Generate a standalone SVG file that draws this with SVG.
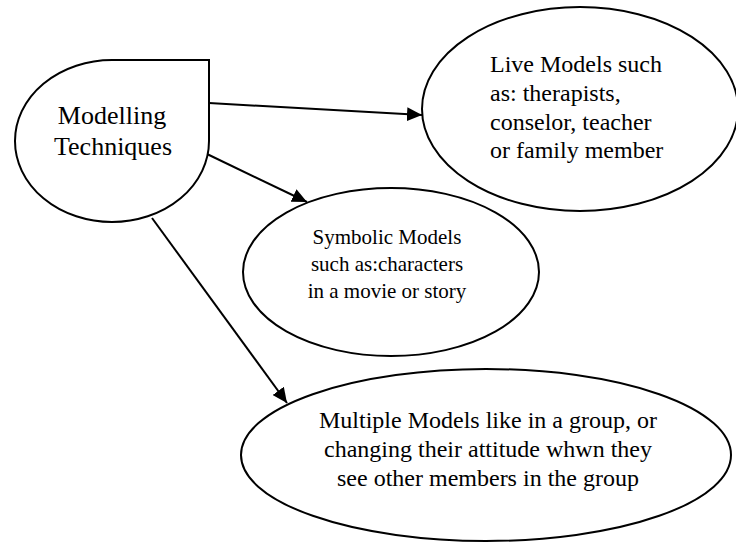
<svg xmlns="http://www.w3.org/2000/svg" width="736" height="542" viewBox="0 0 736 542">
<style>
.shape{fill:#fff;stroke:#000;stroke-width:2}
.conn{stroke:#000;stroke-width:2;fill:none}
text{font-family:"Liberation Serif","Times New Roman",serif;fill:#000}
.mid{text-anchor:middle}
</style>
<defs>
<marker id="arr" markerUnits="userSpaceOnUse" markerWidth="15" markerHeight="14" refX="15" refY="7" orient="auto">
<path d="M0,0 L15,7 L0,14 Z" fill="#000"/>
</marker>
</defs>
<rect width="736" height="542" fill="#fff"/>
<g id="connectors">
<line class="conn" x1="209" y1="103" x2="422" y2="115" marker-end="url(#arr)"/>
<line class="conn" x1="207" y1="154" x2="307" y2="202" marker-end="url(#arr)"/>
<line class="conn" x1="152" y1="218" x2="287" y2="403" marker-end="url(#arr)"/>
</g>
<g id="modelling">
<path class="shape" d="M112,60 L209,60 L209,141 A97,81 0 1,1 112,60 Z"/>
<text class="mid" x="112" y="124" font-size="26">Modelling</text>
<text class="mid" x="113" y="155" font-size="26">Techniques</text>
</g>
<g id="live">
<ellipse class="shape" cx="580" cy="109" rx="158" ry="102"/>
<text x="490" y="72" font-size="24">Live Models such</text>
<text x="490" y="101" font-size="24">as: therapists,</text>
<text x="490" y="130" font-size="24">conselor, teacher</text>
<text x="490" y="158" font-size="24">or family member</text>
</g>
<g id="symbolic">
<ellipse class="shape" cx="391" cy="272" rx="148" ry="84"/>
<text class="mid" x="387" y="244" font-size="21">Symbolic Models</text>
<text class="mid" x="387" y="271" font-size="21">such as:characters </text>
<text class="mid" x="387" y="298" font-size="21">in a movie or story</text>
</g>
<g id="multiple">
<ellipse class="shape" cx="486" cy="455" rx="245" ry="86"/>
<text class="mid" x="488" y="428" font-size="24">Multiple Models like in a group, or</text>
<text class="mid" x="488" y="457" font-size="24">changing their attitude whwn they</text>
<text class="mid" x="488" y="486" font-size="24">see other members in the group</text>
</g>
</svg>
